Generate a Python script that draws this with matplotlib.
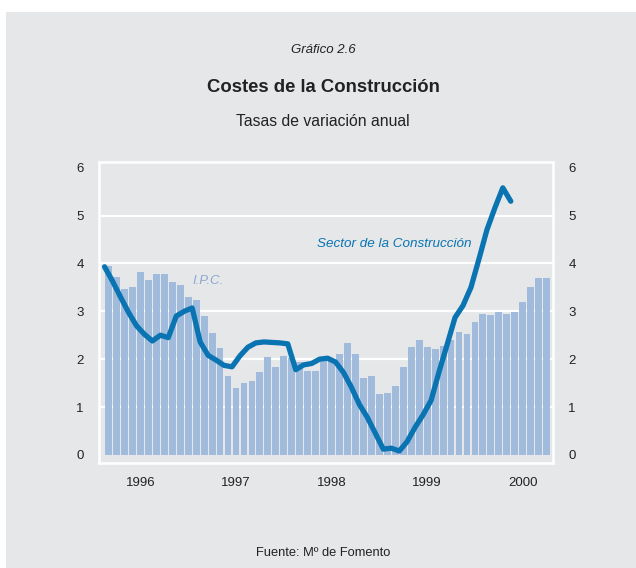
import numpy as np
import matplotlib.pyplot as plt
from matplotlib.patches import Rectangle

# IPC, tasa de variacion anual, mensual ene-1996 .. ago-2000
ipc = [3.95, 3.72, 3.47, 3.51, 3.83, 3.65, 3.78, 3.78, 3.61, 3.56, 3.29, 3.24,
       2.91, 2.55, 2.24, 1.65, 1.39, 1.50, 1.55, 1.73, 2.04, 1.83, 2.06, 2.03,
       1.95, 1.76, 1.76, 1.97, 1.98, 2.10, 2.33, 2.11, 1.60, 1.65, 1.28, 1.30,
       1.44, 1.83, 2.26, 2.40, 2.26, 2.22, 2.28, 2.40, 2.57, 2.53, 2.78, 2.95,
       2.92, 2.99, 2.95, 2.99, 3.19, 3.50, 3.70, 3.70]

# Costes del sector de la construccion, ene-1996 .. abr-2000
construccion = [3.93, 3.63, 3.30, 2.98, 2.70, 2.52, 2.38, 2.50, 2.45, 2.90, 3.00, 3.07,
                2.36, 2.08, 1.98, 1.87, 1.84, 2.07, 2.25, 2.34, 2.36, 2.35, 2.34, 2.32,
                1.78, 1.88, 1.91, 2.00, 2.02, 1.94, 1.72, 1.41, 1.05, 0.78, 0.45, 0.12,
                0.14, 0.08, 0.28, 0.58, 0.84, 1.14, 1.74, 2.30, 2.87, 3.12, 3.50, 4.09,
                4.70, 5.16, 5.58, 5.30]

years = ['1996', '1997', '1998', '1999', '2000']
yticks = [0, 1, 2, 3, 4, 5, 6]

bg = '#e6e7e9'
bar_color = '#a1bbdc'
line_color = '#0a74b2'

plt.rcParams['font.family'] = ['Liberation Sans', 'DejaVu Sans']

fig = plt.figure(figsize=(6.36, 5.68), dpi=100)
fig.patch.set_facecolor('white')
# panel gris de fondo
fig.patches.append(Rectangle((6 / 636, 0), 1, 1 - 12 / 568, transform=fig.transFigure,
                             facecolor=bg, edgecolor='none', zorder=-10))

ax = fig.add_axes([99 / 636, 1 - 463 / 568, 454 / 636, 301 / 568])
ax.set_facecolor(bg)

x_bar = np.arange(len(ipc)) + 0.5
ax.bar(x_bar, ipc, width=0.86, color=bar_color, zorder=2)

x_line = np.arange(len(construccion))
ax.plot(x_line, construccion, color=line_color, lw=3.8, zorder=3,
        solid_capstyle='round', solid_joinstyle='round')

ax.set_xlim(-0.7, 56.3)
ax.set_ylim(-0.17, 6.12)

# rejilla y marco en blanco
for v in [1, 2, 3, 4, 5]:
    ax.axhline(v, color='white', lw=1.6, zorder=1)
for s in ax.spines.values():
    s.set_color('white')
    s.set_linewidth(1.8)

ax.set_yticks(yticks)
ax.set_yticklabels([str(v) for v in yticks])
ax.tick_params(axis='y', length=0, pad=11, labelsize=9.5, colors='#222222',
               labelright=True, right=False)
ax.set_xticks([4.5 + 12 * k for k in range(len(years))])
ax.set_xticklabels(years)
ax.tick_params(axis='x', length=0, pad=10, labelsize=9.5, colors='#222222')

ax.text(11.0, 3.64, 'I.P.C.', color='#8ea8cf', fontsize=9.5, style='italic',
        va='center', ha='left', zorder=4)
ax.text(26.7, 4.41, 'Sector de la Construcción', color=line_color, fontsize=9.7,
        style='italic', va='center', ha='left', zorder=4)

fig.text(0.508, 1 - 50 / 568, 'Gráfico 2.6', ha='center', va='center',
         fontsize=9.5, style='italic', color='#222222')
fig.text(0.508, 1 - 87 / 568, 'Costes de la Construcción', ha='center', va='center',
         fontsize=13.3, fontweight='bold', color='#222222')
fig.text(0.508, 1 - 121 / 568, 'Tasas de variación anual', ha='center', va='center',
         fontsize=11.3, color='#222222')
fig.text(0.508, 1 - 553 / 568, 'Fuente: Mº de Fomento', ha='center', va='center',
         fontsize=9.3, color='#222222')

fig.savefig('out.png', dpi=100, facecolor=fig.get_facecolor())
